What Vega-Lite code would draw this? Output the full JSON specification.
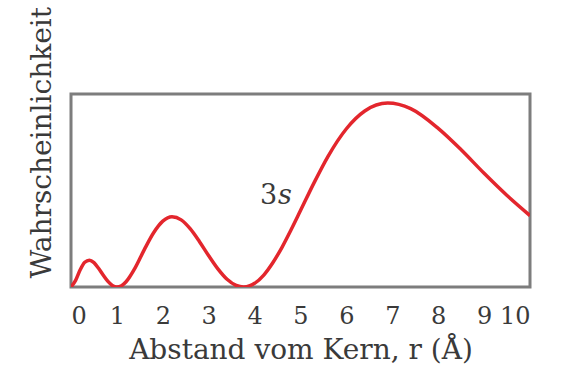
{
  "$schema": "https://vega.github.io/schema/vega-lite/v6.json",
  "width": 459,
  "height": 193,
  "autosize": {"type": "none"},
  "padding": {"left": 71, "top": 94, "right": 31, "bottom": 85},
  "background": "white",
  "config": {
    "view": {"stroke": "#7d7d7d", "strokeWidth": 3},
    "font": "DejaVu Serif",
    "axis": {"labelFont": "DejaVu Serif", "titleFont": "DejaVu Serif", "labelColor": "#3a3a3a", "titleColor": "#3a3a3a", "titleFontWeight": "normal", "grid": false, "domain": false, "ticks": false}
  },
  "data": {
    "values": [
      {"r": 0.0, "p": 0.0},
      {"r": 0.1, "p": 0.034},
      {"r": 0.2, "p": 0.089},
      {"r": 0.3, "p": 0.128},
      {"r": 0.4, "p": 0.139},
      {"r": 0.5, "p": 0.126},
      {"r": 0.6, "p": 0.097},
      {"r": 0.7, "p": 0.062},
      {"r": 0.8, "p": 0.030},
      {"r": 0.9, "p": 0.008},
      {"r": 1.0, "p": 0.0},
      {"r": 1.1, "p": 0.0065},
      {"r": 1.2, "p": 0.027},
      {"r": 1.4, "p": 0.100},
      {"r": 1.6, "p": 0.195},
      {"r": 1.8, "p": 0.281},
      {"r": 2.0, "p": 0.341},
      {"r": 2.2, "p": 0.364},
      {"r": 2.4, "p": 0.348},
      {"r": 2.6, "p": 0.301},
      {"r": 2.8, "p": 0.235},
      {"r": 3.0, "p": 0.162},
      {"r": 3.2, "p": 0.094},
      {"r": 3.4, "p": 0.040},
      {"r": 3.6, "p": 0.008},
      {"r": 3.76, "p": 0.0},
      {"r": 3.9, "p": 0.007},
      {"r": 4.0, "p": 0.019},
      {"r": 4.2, "p": 0.062},
      {"r": 4.4, "p": 0.127},
      {"r": 4.6, "p": 0.207},
      {"r": 4.8, "p": 0.299},
      {"r": 5.0, "p": 0.396},
      {"r": 5.3, "p": 0.542},
      {"r": 5.6, "p": 0.677},
      {"r": 6.0, "p": 0.820},
      {"r": 6.4, "p": 0.912},
      {"r": 6.9, "p": 0.953},
      {"r": 7.4, "p": 0.924},
      {"r": 8.0, "p": 0.822},
      {"r": 8.5, "p": 0.711},
      {"r": 9.0, "p": 0.589},
      {"r": 9.5, "p": 0.474},
      {"r": 10.0, "p": 0.370}
    ]
  },
  "layer": [
    {
      "mark": {"type": "line", "color": "#e3262d", "strokeWidth": 3.5, "interpolate": "monotone", "clip": true},
      "encoding": {
        "x": {
          "field": "r", "type": "quantitative",
          "scale": {"domain": [0, 10], "nice": false},
          "axis": {"values": [0, 1, 2, 3, 4, 5, 6, 7, 8, 9, 10], "labelFontSize": 24, "labelPadding": 17, "title": "Abstand vom Kern, r (Å)", "titleFontSize": 28, "titlePadding": 8}
        },
        "y": {
          "field": "p", "type": "quantitative",
          "scale": {"domain": [0, 1], "nice": false},
          "axis": {"labels": false, "title": "Wahrscheinlichkeit", "titleFontSize": 28, "titleAngle": -90, "titleAlign": "left", "titleBaseline": "alphabetic", "titleX": -21, "titleY": 184}
        }
      }
    },
    {
      "data": {"values": [{"label": "3"}]},
      "mark": {"type": "text", "align": "right", "baseline": "middle", "fontSize": 27, "color": "#3a3a3a", "font": "DejaVu Serif"},
      "encoding": {"x": {"datum": 4.49}, "y": {"datum": 0.47}, "text": {"field": "label"}}
    },
    {
      "data": {"values": [{"label": "s"}]},
      "mark": {"type": "text", "align": "left", "baseline": "middle", "fontSize": 27, "fontStyle": "italic", "color": "#3a3a3a", "font": "DejaVu Serif", "dx": 1},
      "encoding": {"x": {"datum": 4.49}, "y": {"datum": 0.47}, "text": {"field": "label"}}
    }
  ]
}
